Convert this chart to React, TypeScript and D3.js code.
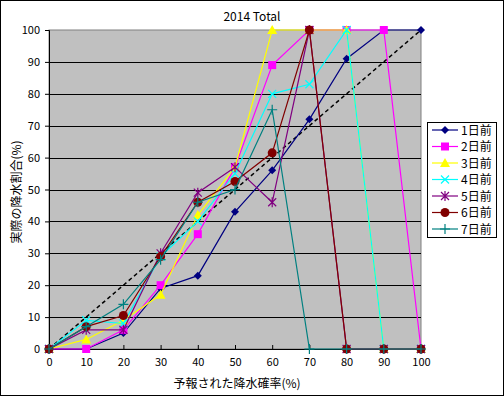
import { useEffect, useRef } from 'react';
import * as d3 from 'd3';

const categories = [0, 10, 20, 30, 40, 50, 60, 70, 80, 90, 100];
const seriesNames = ['1日前', '2日前', '3日前', '4日前', '5日前', '6日前', '7日前'];
const day1 = [0, 0, 5, 19, 23, 43, 56, 72, 91, 100, 100];
const day2 = [0, 0, 6, 20, 36, 57, 89, 100, 100, 100, 0];
const day3 = [0, 3, 9, 17, 42, 57, 100, 100, 100, 0, 0];
const day4 = [0, 9, 8, 29, 40, 55, 80, 83, 100, 0, 0];
const day5 = [0, 6, 6, 30, 49, 57, 46, 100, 0, 0, 0];
const day6 = [0, 7, 10.5, 29, 46, 52.5, 61.5, 100, 0, 0, 0];
const day7 = [0, 7, 14, 28, 46, 50, 75, 0, 0, 0, 0];
const yTicks = [0, 10, 20, 30, 40, 50, 60, 70, 80, 90, 100];

const colors = ['#000080', '#FF00FF', '#FFFF00', '#00FFFF', '#800080', '#800000', '#008080'];
const markers = ['diamond', 'square', 'triangle', 'x', 'star', 'circle', 'plus'];

const FONT = '"Noto Sans CJK JP", "DejaVu Sans", sans-serif';

function drawMarker(g: any, kind: string, x: number, y: number, color: string) {
    if (kind === 'diamond') {
        g.append('path').attr('d', `M${x},${y - 4}L${x + 4},${y}L${x},${y + 4}L${x - 4},${y}Z`).attr('fill', color);
    } else if (kind === 'square') {
        g.append('rect').attr('x', x - 4).attr('y', y - 4).attr('width', 8).attr('height', 8).attr('fill', color);
    } else if (kind === 'triangle') {
        g.append('path').attr('d', `M${x},${y - 5}L${x + 5},${y + 4}L${x - 5},${y + 4}Z`).attr('fill', color);
    } else if (kind === 'circle') {
        g.append('circle').attr('cx', x).attr('cy', y).attr('r', 4.5).attr('fill', color);
    } else {
        let d = '';
        if (kind === 'x' || kind === 'star') d += `M${x - 4},${y - 4}L${x + 4},${y + 4}M${x - 4},${y + 4}L${x + 4},${y - 4}`;
        if (kind === 'star' || kind === 'plus') d += `M${x},${y - 5}L${x},${y + 5}`;
        if (kind === 'plus') d += `M${x - 5},${y}L${x + 5},${y}`;
        g.append('path').attr('d', d).attr('stroke', color).attr('stroke-width', 1.2).attr('fill', 'none');
    }
}

export default function App() {
    const ref = useRef<SVGSVGElement>(null);

    useEffect(() => {
        const width = 504;
        const height = 396;
        const svg = d3.select(ref.current);
        svg.selectAll('*').remove();

        const left = 49, right = 421, top = 30, bottom = 349;
        const series = [day1, day2, day3, day4, day5, day6, day7];

        svg.append('rect').attr('x', 0.5).attr('y', 0.5).attr('width', width - 1).attr('height', height - 1)
            .attr('fill', '#fff').attr('stroke', '#000');

        const x = d3.scaleLinear().domain([0, 100]).range([left, right]);
        const y = d3.scaleLinear().domain([0, 100]).range([bottom, top]);

        // plot area
        svg.append('rect').attr('x', left).attr('y', top).attr('width', right - left).attr('height', bottom - top)
            .attr('fill', '#C0C0C0').attr('stroke', '#808080');

        // gridlines
        svg.append('g').selectAll('line').data(yTicks.filter((t) => t > 0 && t < 100)).enter().append('line')
            .attr('x1', left).attr('x2', right).attr('y1', (d) => Math.round(y(d)) + 0.5).attr('y2', (d) => Math.round(y(d)) + 0.5)
            .attr('stroke', '#000');

        // axes
        const yAxis = svg.append('g').attr('transform', `translate(${left},0)`)
            .call(d3.axisLeft(y).tickValues(yTicks).tickSize(4).tickPadding(5));
        const xAxis = svg.append('g').attr('transform', `translate(0,${bottom})`)
            .call(d3.axisBottom(x).tickValues(categories).tickSize(-4).tickPadding(9));
        [yAxis, xAxis].forEach((a) => {
            a.select('.domain').attr('stroke', '#000');
            a.selectAll('line').attr('stroke', '#000');
            a.selectAll('text').attr('font-family', FONT).attr('font-size', 11).attr('fill', '#000');
        });

        // diagonal reference
        svg.append('line').attr('x1', x(0)).attr('y1', y(0)).attr('x2', x(100)).attr('y2', y(100))
            .attr('stroke', '#000').attr('stroke-width', 1.5).attr('stroke-dasharray', '4,3');

        const line = d3.line<number>().x((_, i) => x(categories[i])).y((d) => y(d));
        series.forEach((s, k) => {
            const g = svg.append('g');
            g.append('path').attr('d', line(s)).attr('fill', 'none').attr('stroke', colors[k]).attr('stroke-width', 1.2);
            s.forEach((v, i) => drawMarker(g, markers[k], x(categories[i]), y(v), colors[k]));
        });

        // titles
        svg.append('text').attr('x', 252).attr('y', 21).attr('text-anchor', 'middle')
            .attr('font-family', FONT).attr('font-size', 12).text('2014 Total');
        svg.append('text').attr('x', 237).attr('y', 388).attr('text-anchor', 'middle')
            .attr('font-family', FONT).attr('font-size', 12).text('予報された降水確率(%)');
        svg.append('text').attr('transform', 'translate(21,192) rotate(-90)').attr('text-anchor', 'middle')
            .attr('font-family', FONT).attr('font-size', 12).text('実際の降水割合(%)');

        // legend
        const lg = svg.append('g');
        lg.append('rect').attr('x', 427.5).attr('y', 122.5).attr('width', 69).attr('height', 115)
            .attr('fill', '#fff').attr('stroke', '#000');
        seriesNames.forEach((name, k) => {
            const cy = 130 + k * 16.5;
            lg.append('line').attr('x1', 432).attr('x2', 458).attr('y1', cy).attr('y2', cy)
                .attr('stroke', colors[k]).attr('stroke-width', 1.2);
            drawMarker(lg, markers[k], 445, cy, colors[k]);
            lg.append('text').attr('x', 461).attr('y', cy + 4.5).attr('font-family', FONT).attr('font-size', 12).text(name);
        });
    }, []);

    return <svg ref={ref} width={504} height={396} style={{ position: 'absolute', left: 0, top: 0 }}></svg>;
}
